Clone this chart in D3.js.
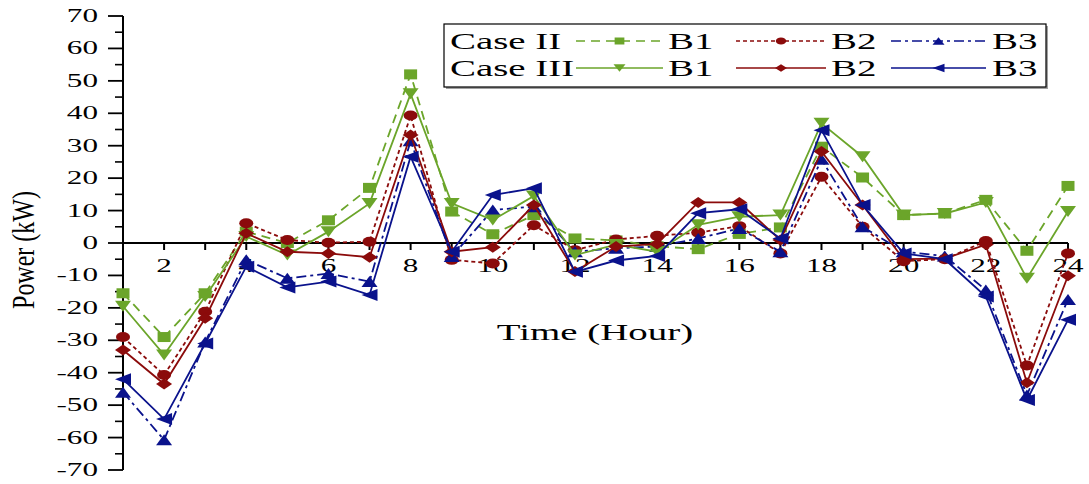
<!DOCTYPE html>
<html>
<head>
<meta charset="utf-8">
<script src="https://cdn.jsdelivr.net/npm/d3@7/dist/d3.min.js"></script>
<style>
  html, body { margin: 0; padding: 0; background: #fff; }
  svg { display: block; }
  text { font-family: "Liberation Serif", "Times New Roman", serif; fill: #000; }
</style>
</head>
<body>
<svg id="chart" width="1089" height="484"></svg>
<script>
// Hour of day (x categories)
const hours = [1, 2, 3, 4, 5, 6, 7, 8, 9, 10, 11, 12, 13, 14, 15, 16, 17, 18, 19, 20, 21, 22, 23, 24];

// Power exchanged per bus (kW)
const caseIIB1  = [-15.5, -29, -15.5, 3.5, 0, 7, 17, 52, 9.7, 2.7, 8.6, 1.4, 0.8, -1.0, -1.9, 2.8, 4.8, 29.7, 20.2, 8.6, 9.1, 13.3, -2.4, 17.6];
const caseIIB2  = [-29, -40.7, -21.2, 6.1, 0.9, 0.1, 0.4, 39.3, -5.2, -6.3, 5.5, -2.2, 1.1, 2.2, 3.2, 5.2, -3.2, 20.4, 5, -5.6, -5, 0.6, -37.8, -3.2];
const caseIIB3  = [-46, -60.7, -30.5, -5.2, -10.9, -9.4, -11.9, 31.5, -4.2, 10.2, 11.2, -2.7, -1.6, -1.1, 1.4, 4.5, -2.7, 25.8, 5, -2.7, -4, -14.5, -46.9, -17.4];
const caseIIIB1 = [-19.5, -34.5, -16.5, 2, -3.7, 3.5, 12.2, 46, 12.2, 7.1, 14.5, -3.7, -0.5, -2.7, 5.6, 8.1, 8.6, 36.9, 26.6, 8.6, 9.1, 12.5, -10.9, 9.7];
const caseIIIB2 = [-33, -43.5, -23.2, 3, -2.7, -3.2, -4.4, 33.3, -2.7, -1.3, 11.7, -8.8, -1.1, -0.3, 12.5, 12.5, 0.9, 28.2, 11.7, -5, -4.8, -0.5, -43.1, -10.1];
const caseIIIB3 = [-42, -54.3, -31, -7.3, -13.7, -11.9, -16, 26.6, -2.7, 14.8, 16.9, -8.9, -5.4, -4, 9.2, 10.4, 1.4, 34.8, 11.7, -3.2, -5, -16.5, -48.4, -23.7];

// Axis ticks
const yTickValues = [-70, -60, -50, -40, -30, -20, -10, 0, 10, 20, 30, 40, 50, 60, 70];
const xTickLabels = [2, 4, 6, 8, 10, 12, 14, 16, 18, 20, 22, 24];

const GREEN = "#6ba52a", RED = "#8b0b0b", BLUE = "#0a128c";
const SX = 1.73; // horizontal glyph stretch used throughout the figure

const series = [
  { name: "B1", caseName: "Case II",  values: caseIIB1,  color: GREEN, dash: "9,6",        marker: "square" },
  { name: "B2", caseName: "Case II",  values: caseIIB2,  color: RED,   dash: "4,3",        marker: "circle" },
  { name: "B3", caseName: "Case II",  values: caseIIB3,  color: BLUE,  dash: "10,4,3,4",   marker: "up" },
  { name: "B1", caseName: "Case III", values: caseIIIB1, color: GREEN, dash: null,         marker: "down" },
  { name: "B2", caseName: "Case III", values: caseIIIB2, color: RED,   dash: null,         marker: "diamond" },
  { name: "B3", caseName: "Case III", values: caseIIIB3, color: BLUE,  dash: null,         marker: "left" }
];

const svg = d3.select("#chart");

const x = d3.scaleLinear().domain([1, 24]).range([123, 1068]);
const y = d3.scaleLinear().domain([-70, 70]).range([470, 16]);

// Marker shapes, wider than tall
function markerPath(type, w, h) {
  const a = w / 2, b = h / 2;
  switch (type) {
    case "square":  return `M${-a},${-b}H${a}V${b}H${-a}Z`;
    case "circle":  return `M${-a},0A${a},${b} 0 1,0 ${a},0A${a},${b} 0 1,0 ${-a},0Z`;
    case "down":    return `M${-a},${-b}L${a},${-b}L0,${b}Z`;
    case "up":      return `M${-a},${b}L${a},${b}L0,${-b}Z`;
    case "diamond": return `M${-a},0L0,${-b}L${a},0L0,${b}Z`;
    case "left":    return `M${a},${-b}L${a},${b}L${-a},0Z`;
  }
}
const markerSize = {
  square: [13, 10], circle: [14, 10], down: [16, 11], up: [16, 11], diamond: [16, 11], left: [16, 12]
};

// ---- Y axis ----
const yAxisG = svg.append("g").attr("transform", `translate(${x(1)},0)`);
yAxisG.append("line")
  .attr("x1", 0).attr("x2", 0).attr("y1", y(70)).attr("y2", y(-70))
  .attr("stroke", "#000").attr("stroke-width", 2);

const minorY = d3.range(-65, 70, 10);
yAxisG.selectAll("line.minor").data(minorY).join("line")
  .attr("class", "minor")
  .attr("x1", -8).attr("x2", 0)
  .attr("y1", d => y(d)).attr("y2", d => y(d))
  .attr("stroke", "#000").attr("stroke-width", 1.6);

yAxisG.selectAll("line.major").data(yTickValues).join("line")
  .attr("class", "major")
  .attr("x1", -15).attr("x2", 0)
  .attr("y1", d => y(d)).attr("y2", d => y(d))
  .attr("stroke", "#000").attr("stroke-width", 1.8);

yAxisG.selectAll("text.tick").data(yTickValues).join("text")
  .attr("class", "tick")
  .attr("text-anchor", "end")
  .attr("font-size", 18)
  .attr("transform", d => `translate(-25,${y(d) + 6}) scale(${SX},1)`)
  .text(d => d);

// ---- X axis along zero ----
const xAxisG = svg.append("g").attr("transform", `translate(0,${y(0)})`);
xAxisG.append("line")
  .attr("x1", x(1)).attr("x2", x(24)).attr("y1", 0).attr("y2", 0)
  .attr("stroke", "#000").attr("stroke-width", 2);

xAxisG.selectAll("line.tick").data(hours).join("line")
  .attr("class", "tick")
  .attr("x1", d => x(d)).attr("x2", d => x(d))
  .attr("y1", 0).attr("y2", 7)
  .attr("stroke", "#000").attr("stroke-width", 2);

xAxisG.selectAll("text.tick").data(xTickLabels).join("text")
  .attr("class", "tick")
  .attr("text-anchor", "middle")
  .attr("font-size", 18)
  .attr("transform", d => `translate(${x(d)},29) scale(${SX},1)`)
  .text(d => d);

// ---- Axis titles ----
svg.append("text")
  .attr("text-anchor", "middle")
  .attr("font-size", 22.5)
  .attr("transform", `translate(595,340) scale(${SX},1)`)
  .text("Time (Hour)");

svg.append("text")
  .attr("text-anchor", "middle")
  .attr("font-size", 24)
  .attr("transform", `translate(34,250) scale(1.32,1) rotate(-90)`)
  .text("Power (kW)");

// ---- Series ----
const line = d3.line().x((d, i) => x(hours[i])).y(d => y(d));

const seriesG = svg.append("g");
series.forEach(s => {
  const g = seriesG.append("g");
  g.append("path")
    .datum(s.values)
    .attr("d", line)
    .attr("fill", "none")
    .attr("stroke", s.color)
    .attr("stroke-width", 1.8)
    .attr("stroke-dasharray", s.dash);
  const [w, h] = markerSize[s.marker];
  g.selectAll("path.mk").data(s.values).join("path")
    .attr("class", "mk")
    .attr("transform", (d, i) => `translate(${x(hours[i])},${y(d)})`)
    .attr("d", markerPath(s.marker, w, h))
    .attr("fill", s.color);
});

// ---- Legend ----
const lg = svg.append("g");
const box = { x: 444, y: 24, w: 602, h: 63 };
lg.append("rect")
  .attr("x", box.x + 2).attr("y", box.y + 2).attr("width", box.w).attr("height", box.h)
  .attr("fill", "#a0a0a0");
lg.append("rect")
  .attr("x", box.x).attr("y", box.y).attr("width", box.w).attr("height", box.h)
  .attr("fill", "#fff").attr("stroke", "#000").attr("stroke-width", 1.2);

const rowY = { "Case II": 41, "Case III": 68 };
const colLine = { B1: [576, 663], B2: [736, 826], B3: [891, 986] };
const colText = { B1: 668, B2: 831, B3: 992 };

Object.keys(rowY).forEach(c => {
  lg.append("text")
    .attr("font-size", 22.5)
    .attr("transform", `translate(450,${rowY[c] + 7.5}) scale(${SX},1)`)
    .text(c);
});

series.forEach(s => {
  const ry = rowY[s.caseName];
  const [x1, x2] = colLine[s.name];
  lg.append("line")
    .attr("x1", x1).attr("x2", x2).attr("y1", ry).attr("y2", ry)
    .attr("stroke", s.color).attr("stroke-width", 1.5)
    .attr("stroke-dasharray", s.dash);
  const [w, h] = markerSize[s.marker];
  lg.append("path")
    .attr("transform", `translate(${(x1 + x2) / 2},${ry})`)
    .attr("d", markerPath(s.marker, w * 0.75, h * 0.7))
    .attr("fill", s.color);
  lg.append("text")
    .attr("font-size", 22.5)
    .attr("transform", `translate(${colText[s.name]},${ry + 7.5}) scale(${SX},1)`)
    .text(s.name);
});
</script>
</body>
</html>
